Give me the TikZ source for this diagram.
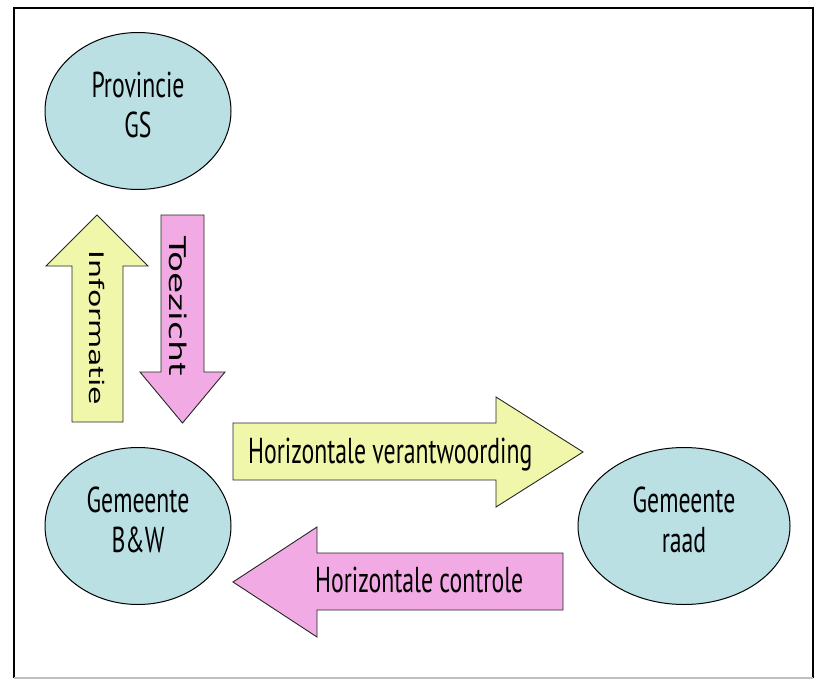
\documentclass[tikz,border=0pt]{standalone}
\usepackage{fontspec}
\usetikzlibrary{shapes.geometric}

\newfontfamily\narrowfont[FakeStretch=0.66]{PT Sans}
\newfontfamily\widefont[FakeStretch=1.5]{DejaVu Sans}

\definecolor{bodycyan}{RGB}{186,224,228}
\definecolor{arrowyellow}{RGB}{240,246,170}
\definecolor{arrowpink}{RGB}{241,170,228}

\begin{document}
\begin{tikzpicture}[x=1pt,y=-1pt,
    body/.style={draw, ellipse, fill=bodycyan, line width=1pt, inner sep=0pt,
        minimum height=157pt, align=center, text depth=12pt,
        font=\narrowfont\fontsize{36}{40}\selectfont},
    yelarrow/.style={draw=black!85, fill=arrowyellow, line width=0.9pt},
    pinkarrow/.style={draw=black!85, fill=arrowpink, line width=0.9pt},
    flatlabel/.style={font=\narrowfont\fontsize{36}{38}\selectfont, inner sep=0pt},
    uplabel/.style={font=\widefont\fontsize{20}{22}\selectfont, inner sep=0pt, rotate=-90}]
    \useasboundingbox (0,0) rectangle (816,680);
    % frame
    \draw[line width=2pt] (14,678) -- (14,8) -- (813,8) -- (813,678);
    \draw[black!25, line width=1.5pt] (14,678) -- (813,678);

    % bodies
    \node [body, minimum width=186pt] (gs) at (138,111) {Provincie\\GS};
    \node [body, minimum width=186pt] (bw) at (138,526) {Gemeente\\B\&W};
    \node [body, minimum width=212pt] (raad) at (684,526) {Gemeente\\raad};

    % vertical arrows
    \draw[yelarrow] (72,422) -- (72,266) -- (46,266) -- (97,215) -- (148,266)
        -- (123,266) -- (123,422) -- cycle;
    \node [uplabel] (info) at (97,328) {Informatie};
    \draw[pinkarrow] (161,215) -- (204,215) -- (204,372) -- (225,372)
        -- (182.5,423) -- (140,372) -- (161,372) -- cycle;
    \node [uplabel, font=\widefont\fontsize{23}{25}\selectfont] (toez) at (178,306) {Toezicht};

    % horizontal arrows
    \draw[yelarrow] (233,423) -- (496,423) -- (496,397) -- (583,452)
        -- (496,507) -- (496,480) -- (233,480) -- cycle;
    \node [flatlabel, anchor=base west] (verantw) at (248,463) {Horizontale verantwoording};
    \draw[pinkarrow] (563,553) -- (317,553) -- (317,527) -- (233,582)
        -- (317,637) -- (317,610) -- (563,610) -- cycle;
    \node [flatlabel, anchor=base west] (contr) at (315,592) {Horizontale controle};
\end{tikzpicture}
\end{document}
